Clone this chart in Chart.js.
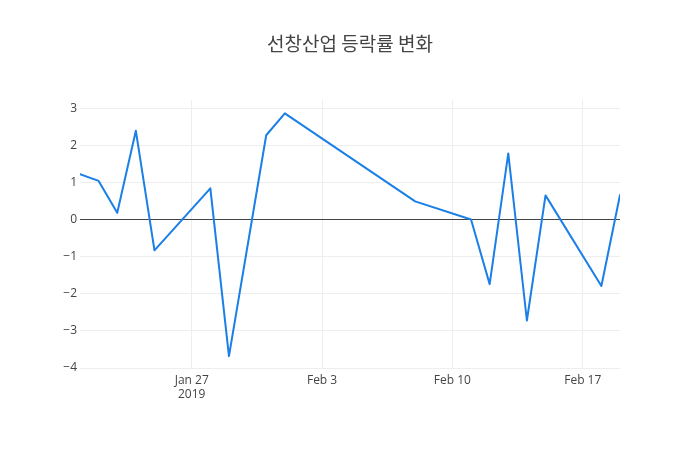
<!DOCTYPE html>
<html>
<head>
<meta charset="utf-8">
<script src="https://cdn.jsdelivr.net/npm/chart.js@4/dist/chart.umd.min.js"></script>
<style>
  html, body { margin: 0; padding: 0; background: #fff; }
  #wrap { width: 700px; height: 450px; position: relative; }
</style>
</head>
<body>
<div id="wrap"><canvas id="c" width="700" height="450"></canvas></div>
<script>
const TITLE = '선창산업 등락률 변화';
const dates = ['2019-01-21','2019-01-22','2019-01-23','2019-01-24','2019-01-25',
               '2019-01-28','2019-01-29','2019-01-31','2019-02-01','2019-02-08',
               '2019-02-11','2019-02-12','2019-02-13','2019-02-14','2019-02-15',
               '2019-02-18','2019-02-19'];
const changes = [1.22, 1.04, 0.18, 2.39, -0.83,
                 0.84, -3.68, 2.27, 2.86, 0.49,
                 0.00, -1.74, 1.78, -2.72, 0.65,
                 -1.79, 0.66];
const xTickDates = ['2019-01-27','2019-02-03','2019-02-10','2019-02-17'];
const yTicks = [-4, -3, -2, -1, 0, 1, 2, 3];
const yRange = [-4.0, 3.22];

const MONTHS = ['Jan','Feb','Mar','Apr','May','Jun','Jul','Aug','Sep','Oct','Nov','Dec'];
const DAY = 86400000;
const toDay = s => { const [y,m,d] = s.split('-').map(Number); return Date.UTC(y, m-1, d) / DAY; };
const firstDay = toDay(dates[0]);
const lastDay = toDay(dates[dates.length-1]);
const points = dates.map((d, i) => ({ x: toDay(d), y: changes[i] }));
const xTickVals = xTickDates.map(toDay);

function fmtTick(v, idx) {
  const dt = new Date(v * DAY);
  const lbl = MONTHS[dt.getUTCMonth()] + ' ' + dt.getUTCDate();
  return idx === 0 ? [lbl, String(dt.getUTCFullYear())] : lbl;
}

const FONT = "'Open Sans', 'Noto Sans', sans-serif";

new Chart(document.getElementById('c'), {
  type: 'line',
  data: {
    datasets: [{
      data: points,
      borderColor: '#1a7fe6',
      borderWidth: 2,
      borderJoinStyle: 'round',
      borderCapStyle: 'round',
      pointRadius: 0,
      pointHoverRadius: 0,
      tension: 0,
      fill: false
    }]
  },
  options: {
    responsive: false,
    animation: false,
    layout: { padding: { left: 0, right: 0, top: 0, bottom: 0 } },
    plugins: {
      legend: { display: false },
      tooltip: { enabled: false },
      title: {
        display: true,
        text: TITLE,
        color: '#444',
        font: { family: "'Noto Sans CJK KR', 'Open Sans', sans-serif", size: 19, weight: 'normal' },
        padding: { top: 32, bottom: 45.2 }
      }
    },
    scales: {
      x: {
        type: 'linear',
        min: firstDay,
        max: lastDay,
        afterBuildTicks: s => { s.ticks = xTickVals.map(v => ({ value: v })); },
        afterFit: s => { s.height = 82; },
        grid: { color: '#eee', drawTicks: false },
        border: { display: false },
        ticks: {
          color: '#444',
          font: { family: FONT, size: 12 },
          padding: 5,
          maxRotation: 0,
          autoSkip: false,
          callback: (v, i) => fmtTick(v, i)
        }
      },
      y: {
        type: 'linear',
        position: 'left',
        min: yRange[0],
        max: yRange[1],
        afterBuildTicks: s => { s.ticks = yTicks.map(v => ({ value: v })); },
        afterFit: s => { s.width = 80; },
        grid: {
          color: c => (c.tick && c.tick.value === 0) ? '#444' : '#eee',
          lineWidth: 1,
          drawTicks: false
        },
        border: { display: false },
        ticks: {
          color: '#444',
          font: { family: FONT, size: 12 },
          padding: 3,
          callback: v => (v < 0 ? '\u2212' + Math.abs(v) : String(v))
        }
      },
      yRight: {
        type: 'linear',
        position: 'right',
        min: yRange[0],
        max: yRange[1],
        afterFit: s => { s.width = 80; },
        grid: { display: false, drawTicks: false },
        border: { display: false },
        ticks: { display: false }
      }
    }
  }
});
</script>
</body>
</html>
